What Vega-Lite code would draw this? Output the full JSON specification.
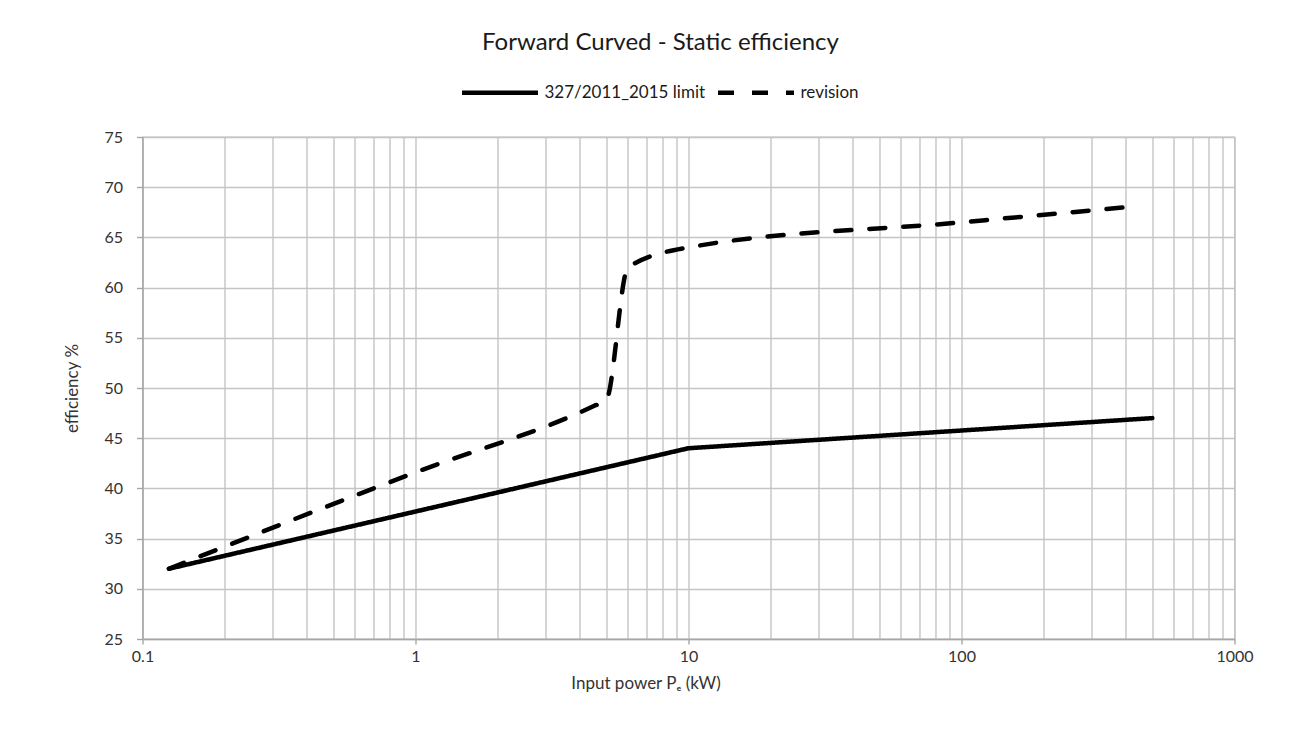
{
  "$schema": "https://vega.github.io/schema/vega-lite/v6.json",
  "width": 1092,
  "height": 502,
  "autosize": {"type": "none"},
  "padding": {"left": 142.5, "top": 137, "right": 77.5, "bottom": 97},
  "background": "white",
  "title": {
    "text": "Forward Curved - Static efficiency",
    "font": "Lato",
    "fontSize": 24,
    "fontWeight": "normal",
    "color": "#1a1a1a",
    "anchor": "middle",
    "frame": "group",
    "dx": -28,
    "baseline": "bottom",
    "offset": -27
  },
  "datasets": {
    "limit": [
      {"power": 0.125, "eff": 32, "series": "327/2011_2015 limit"},
      {"power": 10, "eff": 44, "series": "327/2011_2015 limit"},
      {"power": 500, "eff": 47, "series": "327/2011_2015 limit"}
    ],
    "revision": [
      {"power": 0.125, "eff": 32, "series": "revision"},
      {"power": 1, "eff": 41.6, "series": "revision"},
      {"power": 4.5, "eff": 48.2, "series": "revision"},
      {"power": 5, "eff": 48.8, "series": "revision"},
      {"power": 6, "eff": 62, "series": "revision"},
      {"power": 10, "eff": 64, "series": "revision"},
      {"power": 100, "eff": 66.5, "series": "revision"},
      {"power": 400, "eff": 68, "series": "revision"}
    ]
  },
  "encoding": {
    "x": {
      "field": "power",
      "type": "quantitative",
      "scale": {"type": "log", "domain": [0.1, 1000], "nice": false},
      "axis": {
        "title": "Input power Pₑ (kW)",
        "values": [0.1, 0.2, 0.3, 0.4, 0.5, 0.6, 0.7, 0.8, 0.9, 1, 2, 3, 4, 5, 6, 7, 8, 9, 10, 20, 30, 40, 50, 60, 70, 80, 90, 100, 200, 300, 400, 500, 600, 700, 800, 900, 1000],
        "format": "~g",
        "labelExpr": "indexof([0.1, 1, 10, 100, 1000], datum.value) >= 0 ? datum.label : ''",
        "labelOverlap": false,
        "labelFlush": false,
        "tickOpacity": {"condition": {"test": "indexof([0.1, 1, 10, 100, 1000], datum.value) >= 0", "value": 1}, "value": 0},
        "tickSize": 5,
        "labelPadding": 4,
        "titlePadding": 11,
        "titleX": 503
      }
    },
    "y": {
      "field": "eff",
      "type": "quantitative",
      "scale": {"domain": [25, 75], "nice": false, "zero": false},
      "axis": {
        "title": "efficiency %",
        "values": [25, 30, 35, 40, 45, 50, 55, 60, 65, 70, 75],
        "tickSize": 6,
        "labelPadding": 14,
        "titlePadding": 22
      }
    },
    "strokeDash": {
      "field": "series",
      "type": "nominal",
      "scale": {"domain": ["327/2011_2015 limit", "revision"], "range": [[1, 0], [16, 18]]},
      "legend": {"title": null}
    }
  },
  "layer": [
    {
      "data": {"name": "limit"},
      "mark": {"type": "line", "color": "black", "strokeWidth": 4.5, "interpolate": "linear", "strokeCap": "round", "strokeJoin": "round"}
    },
    {
      "data": {"name": "revision"},
      "mark": {"type": "line", "color": "black", "strokeWidth": 4.5, "interpolate": "monotone", "strokeCap": "round", "strokeJoin": "round"}
    }
  ],
  "config": {
    "view": {"stroke": "#c0c0c0", "strokeWidth": 1.3},
    "axis": {
      "grid": true,
      "gridColor": "#c4c4c4",
      "gridWidth": 1.4,
      "domainColor": "#a6a6a6",
      "domainWidth": 1.4,
      "tickColor": "#a6a6a6",
      "tickWidth": 1.4,
      "labelFont": "Lato",
      "labelFontSize": 16,
      "labelColor": "#333333",
      "titleFont": "Lato",
      "titleFontSize": 17,
      "titleFontWeight": "normal",
      "titleColor": "#333333"
    },
    "legend": {
      "orient": "none",
      "legendX": 317,
      "legendY": -85,
      "direction": "horizontal",
      "labelFont": "Lato",
      "labelFontSize": 17,
      "labelLimit": 400,
      "labelColor": "#1a1a1a",
      "symbolType": "stroke",
      "symbolSize": 5776,
      "symbolStrokeWidth": 4.5,
      "symbolStrokeColor": "black",
      "labelOffset": 4,
      "columnPadding": 3
    }
  }
}
